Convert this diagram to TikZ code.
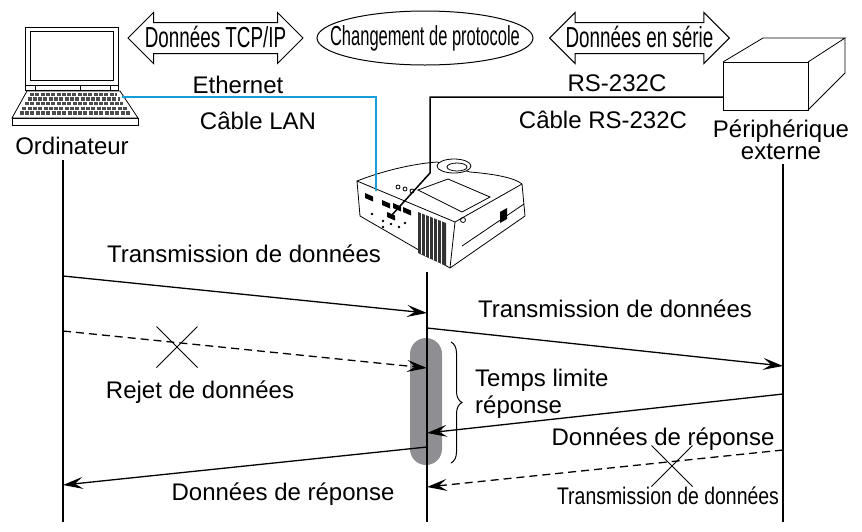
\documentclass[tikz,border=0pt]{standalone}
\usepackage{fontspec}
\setmainfont{Liberation Sans}
\newfontfamily\narrowfont[FakeStretch=0.65]{Liberation Sans}
\newfontfamily\tightfont[FakeStretch=0.6]{Liberation Sans}
\newfontfamily\semifont[FakeStretch=0.81]{Liberation Sans}
\usetikzlibrary{arrows.meta,shapes.arrows,shapes.misc,decorations.pathreplacing}
\definecolor{lanblue}{RGB}{20,160,215}
\definecolor{bargray}{RGB}{143,143,147}

\begin{document}
\begin{tikzpicture}[x=1pt,y=-1pt,
    font=\fontsize{24}{24}\selectfont,
    lifeline/.style={line width=1.3pt},
    msg/.style={line width=1.3pt,-{Stealth[length=20pt,width=12pt,inset=8pt]}},
    lost/.style={msg,dash pattern=on 8pt off 5pt},
    txt/.style={anchor=base,inner sep=0pt},
    drawing/.style={line width=0.8pt},
    cable/.style={line width=1.5pt},
    dataarrow/.style={double arrow,draw,line width=1pt,double arrow head extend=10pt,
        minimum height=175pt,inner xsep=0pt,inner ysep=3pt,text height=21pt,text depth=3pt,
        font=\narrowfont\fontsize{29}{29}\selectfont},
    lostmark/.style={cross out,draw,line width=1pt,minimum size=40pt,inner sep=0pt}]

\useasboundingbox (0,0) rectangle (862,531);

% ordinateur
\draw[drawing,fill=white] (25,27) rectangle (118,90);
\draw[drawing] (30,31) rectangle (113,80);
\draw[drawing] (25,85) -- (118,85);
\foreach \t in {35,80,110}
    \draw[drawing] (\t,85) -- (\t,90);
\draw[drawing,fill=white] (27,91) -- (120,91) -- (138,118) -- (12,118) -- cycle;
\draw[drawing,fill=white] (12,118) rectangle (138,125);
\foreach \r in {0,...,4}{
    \pgfmathsetmacro\ky{94.5+4.6*\r}
    \pgfmathsetmacro\kl{32-15*(\ky-91)/27}
    \pgfmathsetmacro\kr{115+18*(\ky-91)/27}
    \draw[black!70,line width=3.4pt,dash pattern=on 4pt off 1.3pt] (\kl,\ky) -- (\kr,\ky);
}

% projecteur
\draw[drawing,fill=white] (357,181) .. controls (380,172) and (410,164) .. (437,162)
    -- (470,172) .. controls (495,174) and (515,178) .. (522,184)
    -- (525,216) -- (450,268) -- (360,216) -- cycle;
\draw[drawing] (357,181) -- (455,222) -- (522,184);
\draw[drawing] (455,222) -- (450,268);
\draw[drawing,fill=white] (454,166) ellipse (17 and 7);
\draw[drawing] (457,167) ellipse (10 and 4);
\draw[drawing] (418,190) -- (448,179) -- (490,197) -- (462,212) -- cycle;
\foreach \bx/\by in {398/187,405/189,412/191}
    \draw[drawing] (\bx,\by) circle (2);
\foreach \px/\py in {365/193,382/200,393/203,403/207,387/212}
    \fill (\px,\py) -- ++(8,3.5) -- ++(0,5) -- ++(-8,-3.5) -- cycle;
\foreach \px/\py in {372/214,383/221,391/224,399/227,405/223,383/227}
    \fill (\px,\py) circle (1.3);
\fill[black!80] (418,212) -- (446,223) -- (446,266) -- (418,253) -- cycle;
\foreach \vx in {421,425,...,443}
    \draw[white,line width=0.4pt] (\vx,{212+0.39*(\vx-418)}) -- (\vx,{253+0.46*(\vx-418)});
\draw[drawing] (463,220) circle (2.5);
\fill (500,212) -- (507,208) -- (507,219) -- (500,223) -- cycle;
\draw[drawing] (462,246) -- (524,204);

% peripherique externe
\draw[drawing,fill=white] (723,62) rectangle (808,110);
\draw[drawing] (723,62) -- (763,38) -- (845,38) -- (808,62);
\draw[drawing] (845,38) -- (845,73) -- (808,110);

% cables
\coordinate (lanA) at (122,97);
\coordinate (lanB) at (376,191);
\coordinate (rsA) at (723,97);
\coordinate (rsB) at (430,173);
\coordinate (rsC) at (391,216);
\draw[cable,lanblue] (lanA) -| (lanB);
\draw[cable] (rsA) -| (rsB) -- (rsC);

% en-tete
\node[dataarrow] (tcp) at (215.5,38) {Données TCP/IP};
\node[inner sep=0pt,font=\tightfont\fontsize{27.5}{27.5}\selectfont] (proto) at (425,38) {Changement de protocole};
\draw[line width=1pt] (proto.center) ellipse (108 and 27);
\node[dataarrow] (serie) at (639.5,38) {Données en série};

\node[txt] (ordi) at (72,154) {Ordinateur};
\node[txt] (eth) at (238,93) {Ethernet};
\node[txt] (lan) at (258,129) {Câble LAN};
\node[txt] (rs) at (617,91) {RS-232C};
\node[txt] (rscab) at (603,128) {Câble RS-232C};
\node[txt] (peri) at (781,137) {Périphérique};
\node[txt] (ext) at (781,159) {externe};

% lignes de vie
\coordinate (pcTop) at (63,160);
\coordinate (pcBot) at (63,522);
\coordinate (prTop) at (427,272);
\coordinate (prBot) at (427,522);
\coordinate (dvTop) at (783,164);
\coordinate (dvBot) at (783,522);

\node[fill=bargray,rounded corners=16pt,minimum width=32pt,minimum height=127pt,inner sep=0pt] (wait) at (426,401.5) {};

\draw[lifeline] (pcTop) -- (pcBot);
\draw[lifeline] (prTop) -- (prBot);
\draw[lifeline] (dvTop) -- (dvBot);

% messages
\coordinate (m1a) at (63,276);  \coordinate (m1b) at (427,313);
\coordinate (m2a) at (63,331);  \coordinate (m2b) at (427,368);
\coordinate (m3a) at (427,328); \coordinate (m3b) at (783,366);
\coordinate (m4a) at (783,394); \coordinate (m4b) at (427,433);
\coordinate (m5a) at (427,447); \coordinate (m5b) at (63,485);
\coordinate (m6a) at (783,450); \coordinate (m6b) at (427,487);

\draw[msg] (m1a) -- (m1b);
\draw[lost] (m2a) -- (m2b);
\draw[msg] (m3a) -- (m3b);
\draw[msg] (m4a) -- (m4b);
\draw[msg] (m5a) -- (m5b);
\draw[lost] (m6a) -- (m6b);

\node[lostmark] (lostA) at (177,347) {};
\node[lostmark] (lostB) at (672,466) {};

\node[txt] (tx1) at (244,262) {Transmission de données};
\node[txt] (rej) at (200,398) {Rejet de données};
\node[txt] (rep1) at (283,500) {Données de réponse};
\node[txt] (tx2) at (615,317) {Transmission de données};
\node[txt] (rep2) at (663,445) {Données de réponse};
\node[txt,font=\semifont\fontsize{24}{24}\selectfont] (tx3) at (668,504) {Transmission de données};

% temps limite
\coordinate (brTop) at (451,342);
\coordinate (brBot) at (451,463);
\draw[decorate,decoration={brace,amplitude=11pt},line width=1pt] (brTop) -- (brBot);
\node[txt,anchor=base west] (tl1) at (475,386) {Temps limite};
\node[txt,anchor=base west] (tl2) at (475,413) {réponse};

\end{tikzpicture}
\end{document}
